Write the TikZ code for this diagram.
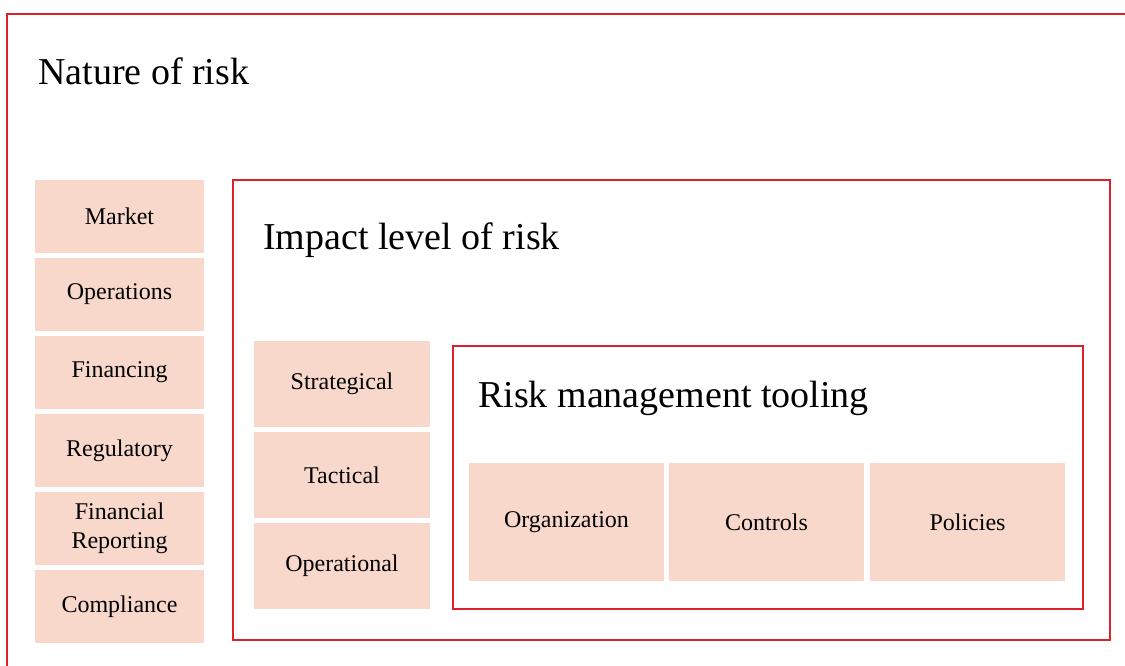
\documentclass[tikz,border=0pt]{standalone}
\usepackage{fontspec}
\setmainfont{Liberation Serif}
\usepackage{tikz}
\usetikzlibrary{positioning}
\definecolor{mred}{RGB}{222, 32, 44}
\definecolor{mpeach}{RGB}{248, 216, 203}

\tikzset{
    frame/.style={draw=mred, line width=1.1pt},
    riskbox/.style={fill=mpeach, inner sep=0pt, align=center,
        font=\fontsize{18}{21.5}\selectfont},
    heading/.style={anchor=base west, inner sep=0pt,
        font=\fontsize{28.5}{31}\selectfont}
}

\begin{document}
\begin{tikzpicture}[x=0.75pt, y=-0.75pt]
    \useasboundingbox (0, 0) rectangle (1125, 666);
    \clip (0, 0) rectangle (1125, 666);

    % outer frame, runs off the page
    \draw [frame] (7, 14) rectangle (1140, 680);
    \node [heading] (nature) at (38, 85) {Nature of risk};

    % nature of risk column
    \node [riskbox, minimum width=126.75pt, minimum height=54.75pt] (market) at (119.5, 216.5) {Market};
    \node [riskbox, minimum width=126.75pt, minimum height=54.75pt] (operations) at (119.5, 294.5) {Operations};
    \node [riskbox, minimum width=126.75pt, minimum height=54.75pt] (financing) at (119.5, 372.5) {Financing};
    \node [riskbox, minimum width=126.75pt, minimum height=54.75pt] (regulatory) at (119.5, 450.5) {Regulatory};
    \node [riskbox, minimum width=126.75pt, minimum height=54.75pt] (reporting) at (119.5, 528.5) {Financial\\Reporting};
    \node [riskbox, minimum width=126.75pt, minimum height=54.75pt] (compliance) at (119.5, 606.5) {Compliance};

    % impact level
    \draw [frame] (233, 180) rectangle (1110, 640);
    \node [heading] (impact) at (263, 250) {Impact level of risk};

    \node [riskbox, minimum width=132pt, minimum height=64.5pt] (strategical) at (342, 384) {Strategical};
    \node [riskbox, minimum width=132pt, minimum height=64.5pt] (tactical) at (342, 475) {Tactical};
    \node [riskbox, minimum width=132pt, minimum height=64.5pt] (operational) at (342, 566) {Operational};

    % tooling
    \draw [frame] (453, 346) rectangle (1083, 609);
    \node [heading] (tooling) at (478, 408) {Risk management tooling};

    \node [riskbox, minimum width=146.25pt, minimum height=88.5pt] (organization) at (566.5, 522) {Organization};
    \node [riskbox, minimum width=146.25pt, minimum height=88.5pt] (controls) at (766.5, 522) {Controls};
    \node [riskbox, minimum width=146.25pt, minimum height=88.5pt] (policies) at (967.5, 522) {Policies};
  \end{tikzpicture}
\end{document}
